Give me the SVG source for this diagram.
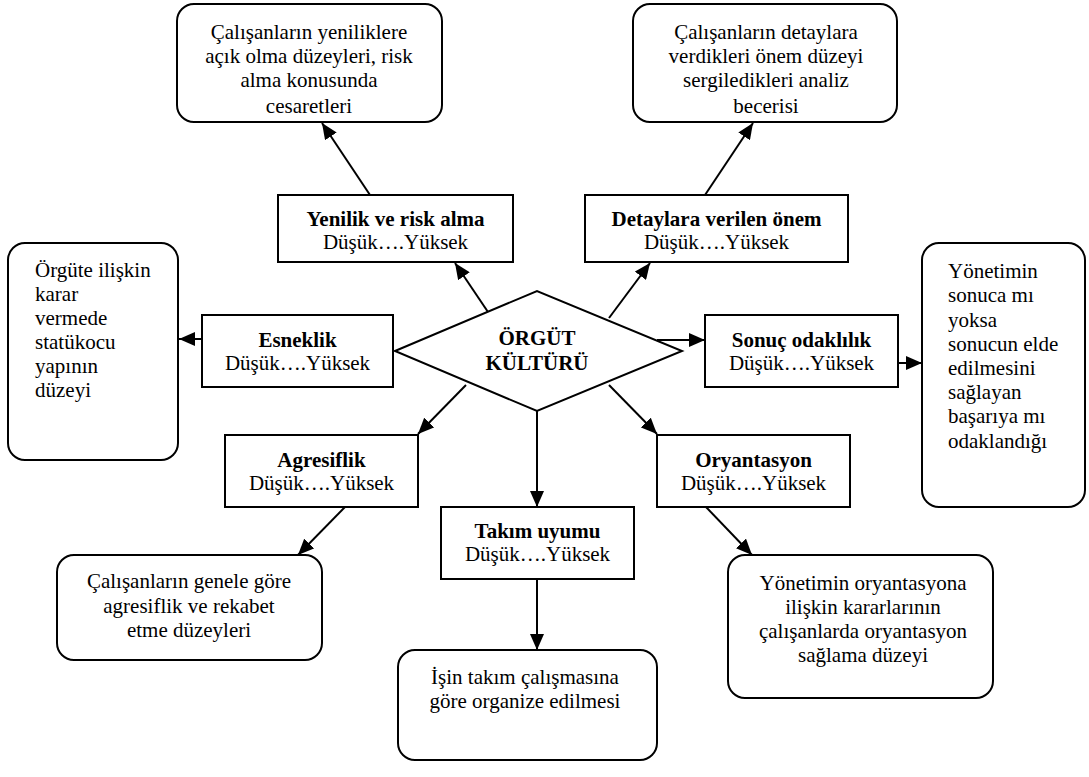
<svg xmlns="http://www.w3.org/2000/svg" width="1089" height="777" viewBox="0 0 1089 777" font-family="'Liberation Serif', 'DejaVu Serif', serif">
<style>
.box{fill:#fff;stroke:#000;stroke-width:2}
.rbox{fill:#fff;stroke:#000;stroke-width:2}
text{font-family:'Liberation Serif','DejaVu Serif',serif;font-size:21px;fill:#000}
.c{text-anchor:middle}
.b{font-weight:bold}
.con line{stroke:#000;stroke-width:2;marker-end:url(#ah)}
</style>
<defs>
<marker id="ah" markerUnits="userSpaceOnUse" markerWidth="16" markerHeight="14" refX="16" refY="7" orient="auto">
<path d="M0,0 L16,7 L0,14 Z" fill="#000"/>
</marker>
<clipPath id="clipTL"><rect x="177" y="0" width="265" height="115"/></clipPath>
<clipPath id="clipTR"><rect x="633" y="0" width="264" height="115"/></clipPath>
</defs>
<rect width="1089" height="777" fill="#fff"/>

<g class="con">
<line x1="370" y1="195" x2="322" y2="123"/>
<line x1="705" y1="195" x2="753" y2="123"/>
<line x1="488" y1="312" x2="455" y2="263"/>
<line x1="609" y1="318" x2="650" y2="263"/>
<line x1="202" y1="339" x2="179" y2="339"/>
<line x1="657" y1="340" x2="705" y2="340"/>
<line x1="898" y1="363" x2="922" y2="363"/>
<line x1="466" y1="385" x2="418" y2="434"/>
<line x1="609" y1="385" x2="657" y2="434"/>
<line x1="537" y1="411" x2="537" y2="507"/>
<line x1="345" y1="507" x2="298" y2="555"/>
<line x1="706" y1="507" x2="752" y2="555"/>
<line x1="537" y1="579" x2="537" y2="650"/>
</g>

<g id="desc-yenilik">
<rect class="rbox" x="177" y="4" width="265" height="118" rx="17"/>
<g clip-path="url(#clipTL)">
<text class="c" x="309" y="39">Çalışanların yeniliklere</text>
<text class="c" x="309" y="63">açık olma düzeyleri, risk</text>
<text class="c" x="309" y="87">alma konusunda</text>
<text class="c" x="309" y="113">cesaretleri</text>
</g>
</g>

<g id="desc-detay">
<rect class="rbox" x="633" y="4" width="264" height="118" rx="17"/>
<g clip-path="url(#clipTR)">
<text class="c" x="766" y="39">Çalışanların detaylara</text>
<text class="c" x="766" y="63">verdikleri önem  düzeyi</text>
<text class="c" x="766" y="87">sergiledikleri analiz</text>
<text class="c" x="766" y="113">becerisi</text>
</g>
</g>

<g id="yenilik">
<rect class="box" x="278" y="195" width="235" height="67"/>
<text class="c b" x="395.5" y="226">Yenilik ve risk alma</text>
<text class="c" x="395.5" y="249">Düşük….Yüksek</text>
</g>

<g id="detay">
<rect class="box" x="585" y="195" width="263" height="67"/>
<text class="c b" x="716.5" y="226">Detaylara verilen önem</text>
<text class="c" x="716.5" y="249">Düşük….Yüksek</text>
</g>

<g id="desc-esneklik">
<rect class="rbox" x="8" y="243" width="170" height="217" rx="17"/>
<text x="35" y="277">Örgüte ilişkin</text>
<text x="35" y="301">karar</text>
<text x="35" y="325">vermede</text>
<text x="35" y="349">statükocu</text>
<text x="35" y="373">yapının</text>
<text x="35" y="397">düzeyi</text>
</g>

<g id="esneklik">
<rect class="box" x="202" y="315" width="191" height="72"/>
<text class="c b" x="297.5" y="347">Esneklik</text>
<text class="c" x="297.5" y="370">Düşük….Yüksek</text>
</g>

<g id="center">
<polygon points="395,351 537,291 682,351 537,411" fill="#fff" stroke="#000" stroke-width="2"/>
<text class="c b" x="537" y="345">ÖRGÜT</text>
<text class="c b" x="537" y="370">KÜLTÜRÜ</text>
</g>

<g id="sonuc">
<rect class="box" x="705" y="315" width="193" height="72"/>
<text class="c b" x="801.5" y="347">Sonuç odaklılık</text>
<text class="c" x="801.5" y="370">Düşük….Yüksek</text>
</g>

<g id="desc-sonuc">
<rect class="rbox" x="922" y="243" width="163" height="264" rx="17"/>
<text x="948" y="278">Yönetimin</text>
<text x="948" y="302">sonuca mı</text>
<text x="948" y="327">yoksa</text>
<text x="948" y="351">sonucun elde</text>
<text x="948" y="375">edilmesini</text>
<text x="948" y="399">sağlayan</text>
<text x="948" y="423">başarıya mı</text>
<text x="948" y="448">odaklandığı</text>
</g>

<g id="agresiflik">
<rect class="box" x="225" y="435" width="193" height="72"/>
<text class="c b" x="321.5" y="467">Agresiflik</text>
<text class="c" x="321.5" y="490">Düşük….Yüksek</text>
</g>

<g id="takim">
<rect class="box" x="441" y="507" width="193" height="72"/>
<text class="c b" x="537.5" y="538">Takım uyumu</text>
<text class="c" x="537.5" y="561">Düşük….Yüksek</text>
</g>

<g id="oryantasyon">
<rect class="box" x="657" y="435" width="193" height="72"/>
<text class="c b" x="753.5" y="467">Oryantasyon</text>
<text class="c" x="753.5" y="490">Düşük….Yüksek</text>
</g>

<g id="desc-agresiflik">
<rect class="rbox" x="57" y="555" width="265" height="105" rx="17"/>
<text class="c" x="189" y="588">Çalışanların genele göre</text>
<text class="c" x="189" y="613">agresiflik ve  rekabet</text>
<text class="c" x="189" y="637">etme düzeyleri</text>
</g>

<g id="desc-takim">
<rect class="rbox" x="398" y="650" width="259" height="110" rx="17"/>
<text class="c" x="525" y="684">İşin takım çalışmasına</text>
<text class="c" x="525" y="708">göre organize  edilmesi</text>
</g>

<g id="desc-oryantasyon">
<rect class="rbox" x="728" y="555" width="265" height="143" rx="17"/>
<text class="c" x="863" y="590">Yönetimin oryantasyona</text>
<text class="c" x="863" y="614">ilişkin kararlarının</text>
<text class="c" x="863" y="638">çalışanlarda oryantasyon</text>
<text class="c" x="863" y="662">sağlama düzeyi</text>
</g>
</svg>
